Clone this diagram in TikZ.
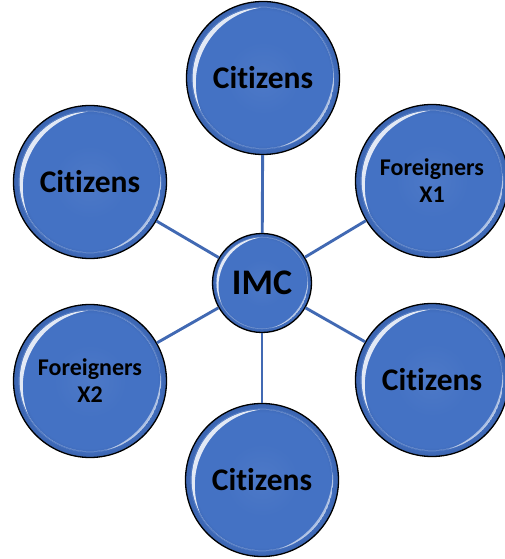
\documentclass[tikz,border=0pt]{standalone}
\usepackage{fontspec}
\setmainfont{Carlito}[RawFeature={-liga;-clig}]
\usetikzlibrary{calc}
\definecolor{ballblue}{HTML}{4472C4}
\definecolor{balledge}{HTML}{3A63AE}
\definecolor{linkblue}{HTML}{4169B3}
\pgfdeclareradialshading{glossball}{\pgfpoint{0bp}{0bp}}{color(0bp)=(ballblue!95!white); color(12bp)=(ballblue); color(22bp)=(ballblue); color(25bp)=(balledge); color(50bp)=(balledge)}
\newcommand\ballshine[2]{%
  \begin{scope}
    \clip (#1.center) circle[radius=0.92*#2];
    \fill[white, opacity=0.85, even odd rule] (#1.center) circle[radius=0.92*#2]
      ($(#1.center)+(0.121*#2,-0.07*#2)$) circle[radius=1.0*#2];
  \end{scope}
  \begin{scope}
    \clip (#1.center) circle[radius=0.93*#2];
    \fill[white, opacity=0.55, even odd rule] (#1.center) circle[radius=0.93*#2]
      ($(#1.center)+(-0.123*#2,0.086*#2)$) circle[radius=1.045*#2];
  \end{scope}
}
\tikzset{
  ball/.style={circle, draw=black, line width=1.3pt, shading=glossball, inner sep=0pt, align=center, text=black},
  outer/.style={ball, minimum size=153pt},
  bigtxt/.style={font=\bfseries\fontsize{31.5}{34}\selectfont},
  smalltxt/.style={font=\bfseries\fontsize{24}{27}\selectfont},
  link/.style={draw=linkblue, line width=2.9pt}
}
\begin{document}
\begin{tikzpicture}[x=1pt,y=1pt]
\useasboundingbox (0,0) rectangle (505,559);
\node[ball, minimum size=99pt, font=\bfseries\fontsize{36}{40}\selectfont] (imc) at (262,276) {IMC};
\node[outer, bigtxt] (top) at (263,481) {Citizens};
\node[outer, bigtxt] (ul) at (90,377) {Citizens};
\node[outer, smalltxt] (ur) at (432,378) {Foreigners\\X1};
\node[outer, smalltxt] (ll) at (90,178) {Foreigners\\X2};
\node[outer, bigtxt] (lr) at (432,179) {Citizens};
\node[outer, bigtxt] (bot) at (262,79) {Citizens};
\foreach \n in {top,ul,ur,ll,lr,bot} {\ballshine{\n}{76.5pt}}
\ballshine{imc}{49.5pt}
\foreach \n in {top,ul,ur,ll,lr,bot} {\path[link] (imc) -- (\n);}
\end{tikzpicture}
\end{document}
